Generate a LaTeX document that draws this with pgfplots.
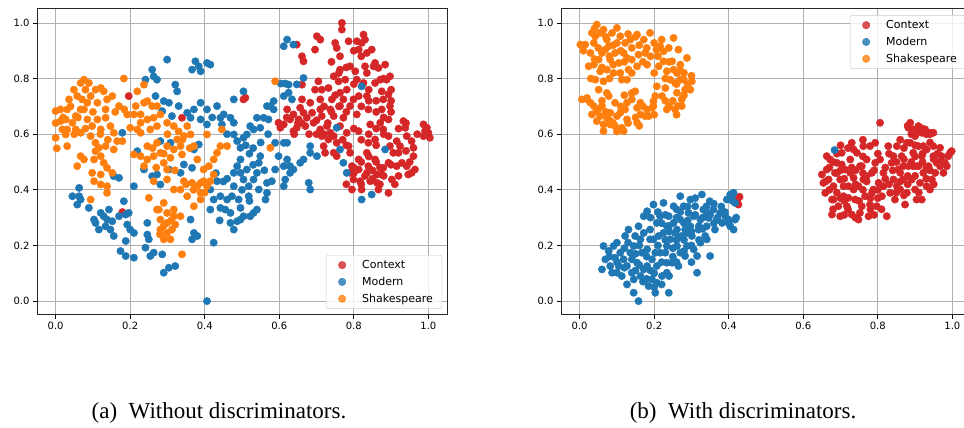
\documentclass[border=0pt]{standalone}
\usepackage{fontspec}
\setmainfont{Liberation Serif}
\newfontfamily\dejavu{DejaVu Sans}
\usepackage{pgfplots}
\pgfplotsset{compat=1.18}
\definecolor{cctx}{HTML}{D62728}
\definecolor{cmod}{HTML}{1F77B4}
\definecolor{cshk}{HTML}{FF7F0E}
\pgfplotsset{
  myax/.style={
    scale only axis, width=410pt, height=306pt,
    xmin=-0.05, xmax=1.05, ymin=-0.05, ymax=1.05,
    xtick={0,0.2,0.4,0.6,0.8,1}, ytick={0,0.2,0.4,0.6,0.8,1},
    /pgf/number format/.cd, fixed, fixed zerofill, precision=1, assume math mode=true, /pgfplots/.cd,
    ticklabel style={font=\dejavu\fontsize{10}{12}\selectfont},
    tick pos=left, tick align=outside, major tick length=4pt,
    tick style={black, line width=0.8pt},
    grid=major, grid style={color=black!31, line width=0.8pt},
    axis line style={black!85, line width=1pt},
    legend cell align=left,
    legend style={font=\dejavu\fontsize{11}{13}\selectfont, draw=black!20, rounded corners=2pt,
      fill=white, fill opacity=0.8, text opacity=1, row sep=3pt, inner xsep=7pt, inner ysep=3pt},
    legend image code/.code={\path[draw=none,fill=none] (0pt,0pt) -- (27pt,0pt); \fill[##1] (9pt,0pt) circle (3.7pt);},
  },
  pts/.style={only marks, mark=*, mark size=3.7pt, mark options={draw=none, fill=#1}, color=#1},
}
\begin{document}
\begin{tikzpicture}[x=1pt,y=1pt]
\path[use as bounding box] (0,0) rectangle (964,428);
\begin{axis}[myax, at={(37pt,113pt)}, anchor=south west,
  legend style={at={(0.988,0.02)}, anchor=south east}]
\addplot[pts=cctx] coordinates {
(0.196,0.737)(0.179,0.32)(0.339,0.659)(0.504,0.725)(0.509,0.731)(0.647,0.922)
(0.598,0.641)(0.603,0.623)(0.612,0.635)(0.621,0.689)(0.629,0.653)(0.638,0.671)(0.638,0.611)(0.647,0.623)(0.652,0.653)(0.656,0.695)(0.661,0.778)(0.661,0.88)(0.665,0.862)(0.661,0.725)(0.665,0.677)(0.67,0.629)(0.674,0.659)(0.683,0.713)(0.688,0.677)(0.692,0.641)(0.696,0.904)(0.701,0.952)(0.71,0.94)(0.696,0.76)(0.705,0.79)(0.71,0.725)(0.71,0.689)(0.714,0.665)(0.71,0.617)(0.714,0.593)(0.719,0.557)(0.723,0.533)(0.732,0.581)(0.728,0.629)(0.737,0.689)(0.741,0.725)(0.732,0.766)(0.746,0.808)(0.75,0.928)(0.754,0.91)(0.763,0.88)(0.768,1.0)(0.768,0.976)(0.763,0.832)(0.759,0.79)(0.763,0.749)(0.763,0.701)(0.772,0.725)(0.777,0.796)(0.781,0.76)(0.786,0.934)(0.79,0.844)(0.79,0.701)(0.781,0.605)(0.754,0.569)(0.746,0.533)(0.754,0.521)(0.786,0.557)(0.79,0.533)(0.795,0.485)(0.79,0.461)(0.795,0.401)(0.799,0.437)(0.804,0.826)(0.808,0.934)(0.813,0.904)(0.808,0.796)(0.813,0.737)(0.808,0.671)(0.813,0.611)(0.813,0.509)(0.813,0.473)(0.817,0.431)(0.821,0.401)(0.821,0.928)(0.826,0.958)(0.83,0.844)(0.835,0.892)(0.835,0.737)(0.839,0.689)(0.844,0.635)(0.839,0.569)(0.835,0.533)(0.839,0.485)(0.835,0.461)(0.844,0.431)(0.848,0.904)(0.853,0.844)(0.857,0.784)(0.857,0.581)(0.857,0.509)(0.862,0.455)(0.862,0.425)(0.866,0.401)(0.866,0.838)(0.871,0.796)(0.875,0.754)(0.879,0.725)(0.875,0.689)(0.871,0.641)(0.879,0.617)(0.879,0.479)(0.875,0.455)(0.884,0.85)(0.888,0.796)(0.893,0.743)(0.897,0.808)(0.897,0.701)(0.893,0.653)(0.893,0.593)(0.897,0.557)(0.893,0.497)(0.893,0.389)(0.902,0.437)(0.906,0.533)(0.915,0.485)(0.92,0.533)(0.924,0.557)(0.933,0.647)(0.938,0.623)(0.942,0.593)(0.942,0.485)(0.946,0.455)(0.955,0.461)(0.96,0.521)(0.955,0.575)(0.96,0.551)(0.964,0.473)(0.987,0.635)(0.991,0.611)(0.987,0.593)(1.0,0.605)(1.004,0.587)(0.996,0.623)(0.915,0.575)(0.929,0.497)
(0.737,0.605)(0.746,0.665)(0.772,0.659)(0.799,0.725)(0.763,0.629)(0.746,0.593)(0.714,0.76)(0.826,0.784)(0.835,0.82)(0.857,0.856)
(0.62,0.66)(0.65,0.64)(0.68,0.6)(0.7,0.65)(0.72,0.7)(0.75,0.74)(0.78,0.68)(0.8,0.62)(0.82,0.58)(0.84,0.52)(0.86,0.56)(0.88,0.6)(0.9,0.68)(0.92,0.62)(0.94,0.54)(0.82,0.5)(0.8,0.46)(0.78,0.42)(0.85,0.44)(0.87,0.48)(0.91,0.42)(0.76,0.82)(0.74,0.86)(0.82,0.88)(0.84,0.76)(0.86,0.72)(0.9,0.76)(0.88,0.66)(0.77,0.58)(0.73,0.64)
(0.85,0.47)(0.86,0.5)(0.88,0.45)(0.9,0.49)(0.83,0.45)(0.82,0.42)(0.87,0.42)(0.8,0.48)(0.84,0.6)(0.86,0.62)(0.82,0.7)(0.84,0.72)(0.8,0.78)(0.78,0.84)(0.8,0.9)(0.83,0.94)(0.72,0.6)(0.7,0.6)(0.66,0.64)(0.64,0.6)(0.76,0.7)(0.74,0.68)(0.92,0.45)(0.95,0.5)(0.97,0.6)(0.94,0.64)(0.9,0.72)(0.88,0.8)(0.86,0.68)(0.78,0.56)
};
\addlegendentry{Context}
\addplot[pts=cmod] coordinates {
(0.045,0.377)(0.063,0.407)(0.063,0.377)(0.067,0.365)(0.058,0.347)(0.089,0.335)(0.103,0.293)(0.107,0.281)(0.116,0.257)(0.121,0.317)(0.129,0.305)(0.134,0.269)(0.143,0.329)(0.138,0.293)(0.147,0.257)(0.156,0.234)(0.152,0.287)(0.17,0.305)(0.183,0.359)(0.188,0.311)(0.196,0.317)(0.192,0.275)(0.2,0.257)(0.21,0.245)(0.188,0.216)(0.174,0.18)(0.188,0.162)(0.21,0.156)(0.21,0.413)(0.156,0.449)(0.17,0.443)(0.179,0.605)
(0.246,0.281)(0.246,0.239)(0.25,0.222)(0.241,0.192)(0.254,0.162)(0.263,0.174)(0.286,0.168)(0.29,0.102)(0.304,0.12)(0.321,0.126)(0.259,0.449)(0.272,0.455)(0.281,0.419)(0.304,0.473)(0.335,0.461)(0.344,0.491)(0.362,0.293)(0.371,0.245)(0.366,0.222)(0.38,0.234)(0.424,0.21)(0.219,0.539)(0.281,0.575)(0.308,0.569)(0.237,0.473)(0.406,0.0)
(0.241,0.796)(0.259,0.832)(0.263,0.808)(0.272,0.796)(0.268,0.737)(0.299,0.868)(0.29,0.719)(0.304,0.713)(0.321,0.778)(0.326,0.754)(0.33,0.701)(0.286,0.683)(0.312,0.665)(0.366,0.832)(0.375,0.862)(0.384,0.844)(0.389,0.826)(0.406,0.856)(0.415,0.85)(0.353,0.677)(0.371,0.689)(0.389,0.713)(0.406,0.689)(0.362,0.659)(0.389,0.653)(0.406,0.635)(0.371,0.545)(0.384,0.563)(0.366,0.479)
(0.415,0.401)(0.424,0.365)(0.415,0.329)(0.433,0.431)(0.442,0.377)(0.442,0.335)(0.455,0.329)(0.469,0.317)(0.46,0.365)(0.473,0.377)(0.478,0.413)(0.478,0.461)(0.487,0.485)(0.496,0.461)(0.496,0.509)(0.504,0.437)(0.513,0.473)(0.518,0.413)(0.531,0.437)(0.54,0.461)(0.545,0.497)(0.549,0.521)(0.469,0.281)(0.478,0.257)(0.487,0.287)(0.496,0.293)(0.504,0.305)(0.522,0.305)(0.531,0.317)(0.54,0.329)(0.496,0.335)(0.491,0.365)(0.518,0.377)(0.545,0.401)(0.567,0.389)(0.563,0.365)(0.567,0.425)(0.58,0.431)(0.589,0.473)(0.598,0.521)
(0.433,0.701)(0.442,0.659)(0.451,0.671)(0.469,0.659)(0.446,0.635)(0.478,0.641)(0.478,0.725)(0.504,0.754)(0.478,0.599)(0.487,0.575)(0.496,0.551)(0.504,0.587)(0.513,0.599)(0.522,0.629)(0.531,0.617)(0.54,0.659)(0.549,0.623)(0.558,0.659)(0.567,0.701)(0.576,0.701)(0.585,0.689)(0.585,0.719)(0.571,0.653)(0.589,0.569)(0.612,0.569)(0.621,0.509)(0.612,0.485)(0.616,0.437)(0.612,0.413)(0.629,0.485)(0.638,0.473)(0.629,0.461)
(0.604,0.782)(0.616,0.782)(0.625,0.778)(0.612,0.737)(0.625,0.749)(0.634,0.725)(0.612,0.916)(0.621,0.94)(0.638,0.922)(0.647,0.779)(0.665,0.802)(0.621,0.569)(0.656,0.497)(0.665,0.509)(0.683,0.557)(0.683,0.533)(0.679,0.425)(0.683,0.401)(0.701,0.521)(0.754,0.623)(0.763,0.545)(0.772,0.497)(0.781,0.461)(0.821,0.772)(0.821,0.365)(0.848,0.383)(0.884,0.545)
(0.43,0.46)(0.45,0.43)(0.52,0.53)(0.53,0.49)(0.56,0.47)(0.5,0.4)(0.52,0.36)(0.44,0.29)(0.46,0.44)(0.51,0.56)(0.55,0.57)(0.53,0.55)(0.57,0.6)(0.42,0.66)(0.46,0.6)
};
\addlegendentry{Modern}
\addplot[pts=cshk] coordinates {
(0,0.683)(0,0.64)(0,0.587)(0.003,0.549)(0.013,0.689)(0.013,0.647)(0.018,0.617)(0.027,0.599)(0.031,0.557)(0.031,0.689)(0.036,0.725)(0.049,0.76)(0.058,0.737)(0.054,0.665)(0.067,0.784)(0.076,0.796)(0.08,0.76)(0.089,0.784)(0.071,0.725)(0.067,0.689)(0.085,0.713)(0.094,0.737)(0.107,0.76)(0.121,0.766)(0.129,0.754)(0.138,0.725)(0.152,0.737)(0.134,0.689)(0.112,0.713)(0.076,0.689)(0.085,0.653)(0.098,0.629)(0.112,0.653)(0.121,0.617)(0.134,0.659)(0.147,0.629)(0.156,0.605)(0.054,0.617)(0.067,0.605)(0.094,0.593)(0.045,0.641)(0.027,0.653)(0.031,0.617)
(0.067,0.521)(0.058,0.485)(0.076,0.509)(0.103,0.509)(0.098,0.461)(0.107,0.539)(0.107,0.569)(0.116,0.551)(0.121,0.521)(0.129,0.497)(0.138,0.479)(0.103,0.431)(0.121,0.419)(0.138,0.413)(0.138,0.389)(0.121,0.455)(0.134,0.557)(0.156,0.545)(0.152,0.461)(0.094,0.365)
(0.17,0.701)(0.184,0.689)(0.179,0.575)(0.165,0.575)(0.183,0.8)(0.192,0.671)(0.21,0.671)(0.2,0.623)(0.215,0.701)(0.219,0.754)(0.237,0.778)(0.237,0.713)(0.21,0.527)(0.219,0.617)
(0.228,0.671)(0.246,0.719)(0.259,0.701)(0.228,0.641)(0.246,0.653)(0.263,0.659)(0.281,0.671)(0.299,0.641)(0.254,0.617)(0.228,0.605)(0.272,0.629)(0.246,0.557)(0.228,0.521)(0.246,0.509)(0.237,0.485)(0.263,0.521)(0.272,0.569)(0.281,0.533)(0.29,0.497)(0.299,0.557)(0.299,0.473)(0.308,0.515)(0.317,0.545)(0.317,0.629)(0.326,0.581)(0.335,0.557)(0.344,0.593)(0.353,0.629)(0.339,0.527)(0.299,0.437)(0.317,0.401)(0.335,0.401)(0.344,0.431)(0.362,0.599)(0.371,0.557)(0.38,0.509)(0.366,0.425)(0.38,0.413)(0.389,0.425)(0.397,0.431)(0.406,0.413)(0.415,0.431)(0.389,0.389)(0.371,0.341)(0.389,0.365)(0.397,0.473)(0.411,0.485)(0.424,0.509)(0.433,0.533)(0.442,0.557)(0.446,0.617)(0.46,0.557)(0.406,0.599)(0.424,0.455)(0.353,0.377)(0.25,0.371)(0.263,0.431)(0.272,0.701)
(0.272,0.329)(0.29,0.353)(0.299,0.317)(0.281,0.293)(0.299,0.281)(0.317,0.305)(0.335,0.305)(0.281,0.257)(0.299,0.245)(0.312,0.257)(0.321,0.275)(0.29,0.222)(0.308,0.222)(0.277,0.329)(0.317,0.329)(0.339,0.168)
(0.589,0.79)(0.576,0.551)
(0.04,0.7)(0.06,0.66)(0.1,0.68)(0.12,0.6)(0.14,0.58)(0.08,0.62)(0.02,0.66)(0.05,0.6)(0.16,0.68)(0.27,0.48)(0.29,0.53)(0.32,0.47)(0.34,0.58)(0.36,0.55)(0.26,0.55)(0.3,0.6)(0.33,0.61)(0.35,0.42)(0.37,0.4)(0.4,0.39)(0.29,0.27)(0.31,0.29)(0.28,0.24)
};
\addlegendentry{Shakespeare}
\end{axis}
\begin{axis}[myax, at={(561pt,113pt)}, anchor=south west,
  legend style={at={(0.988,0.98)}, anchor=north east}]
\addplot[pts=cctx] coordinates {
(0.429,0.375)(0.426,0.347)(0.424,0.365)
(0.65,0.455)(0.654,0.425)(0.659,0.389)(0.663,0.473)(0.668,0.437)(0.672,0.509)(0.677,0.365)(0.677,0.311)(0.681,0.413)(0.685,0.461)(0.69,0.497)(0.694,0.341)(0.699,0.437)(0.699,0.305)(0.703,0.533)(0.708,0.377)(0.712,0.473)(0.717,0.341)(0.721,0.413)(0.726,0.509)(0.73,0.311)(0.73,0.569)(0.735,0.443)(0.739,0.365)(0.744,0.533)(0.748,0.293)(0.748,0.413)(0.752,0.485)(0.757,0.341)(0.761,0.557)(0.761,0.437)(0.766,0.377)(0.77,0.509)(0.775,0.305)(0.779,0.557)(0.779,0.347)(0.784,0.461)(0.788,0.401)(0.793,0.497)(0.797,0.341)(0.802,0.425)(0.806,0.509)(0.806,0.641)(0.811,0.377)(0.815,0.461)(0.824,0.305)(0.828,0.557)(0.833,0.389)(0.837,0.497)(0.842,0.437)(0.846,0.365)(0.851,0.557)(0.855,0.473)(0.86,0.401)(0.864,0.521)(0.868,0.437)(0.873,0.347)(0.878,0.569)(0.878,0.389)(0.882,0.485)(0.882,0.623)(0.887,0.641)(0.891,0.437)(0.895,0.533)(0.895,0.617)(0.9,0.593)(0.9,0.401)(0.904,0.485)(0.909,0.629)(0.909,0.557)(0.913,0.425)(0.918,0.605)(0.918,0.521)(0.918,0.365)(0.922,0.461)(0.927,0.617)(0.931,0.545)(0.931,0.413)(0.936,0.485)(0.94,0.605)(0.945,0.437)(0.949,0.521)(0.949,0.605)(0.954,0.461)(0.958,0.497)(0.967,0.485)(0.971,0.521)(0.976,0.461)(0.98,0.497)(0.985,0.485)(0.989,0.521)(0.994,0.533)(0.998,0.539)
(0.949,0.557)(0.94,0.401)(0.895,0.485)(0.868,0.485)(0.842,0.521)(0.793,0.569)(0.77,0.449)(0.735,0.401)(0.708,0.413)(0.681,0.365)(0.663,0.521)(0.703,0.491)(0.726,0.461)(0.757,0.485)(0.784,0.389)(0.815,0.413)(0.851,0.413)(0.887,0.569)(0.86,0.461)(0.909,0.485)(0.922,0.557)(0.967,0.551)(0.904,0.365)(0.735,0.545)(0.752,0.317)(0.721,0.371)
(0.67,0.48)(0.69,0.46)(0.71,0.44)(0.69,0.39)(0.72,0.33)(0.74,0.47)(0.76,0.4)(0.78,0.33)(0.8,0.37)(0.82,0.48)(0.86,0.43)(0.88,0.45)(0.9,0.52)(0.92,0.5)(0.93,0.44)(0.94,0.47)(0.96,0.5)(0.89,0.6)(0.91,0.61)(0.93,0.6)(0.87,0.55)(0.85,0.5)(0.71,0.36)(0.76,0.46)(0.8,0.53)
(0.66,0.43)(0.67,0.4)(0.68,0.5)(0.69,0.53)(0.7,0.47)(0.7,0.37)(0.71,0.31)(0.72,0.55)(0.73,0.48)(0.74,0.42)(0.75,0.36)(0.76,0.52)(0.77,0.43)(0.78,0.37)(0.79,0.47)(0.8,0.4)(0.81,0.33)(0.82,0.44)(0.83,0.53)(0.84,0.47)(0.85,0.39)(0.86,0.58)(0.87,0.51)(0.88,0.42)(0.89,0.5)(0.9,0.45)(0.9,0.56)(0.91,0.39)(0.92,0.53)(0.93,0.48)(0.94,0.57)(0.95,0.42)(0.96,0.53)(0.97,0.5)(0.92,0.62)(0.94,0.6)(0.88,0.63)(0.79,0.31)(0.74,0.3)(0.7,0.56)(0.76,0.58)(0.83,0.42)(0.87,0.38)(0.95,0.51)(0.68,0.33)
};
\addlegendentry{Context}
\addplot[pts=cmod] coordinates {
(0.06,0.114)(0.064,0.198)(0.069,0.15)(0.078,0.18)(0.082,0.126)(0.087,0.102)(0.091,0.198)(0.095,0.156)(0.1,0.21)(0.105,0.126)(0.109,0.174)(0.113,0.09)(0.118,0.15)(0.122,0.234)(0.127,0.06)(0.127,0.126)(0.131,0.257)(0.136,0.174)(0.14,0.102)(0.145,0.198)(0.145,0.03)(0.149,0.234)(0.154,0.138)(0.158,0.269)(0.158,0.0)(0.163,0.09)(0.167,0.174)(0.172,0.245)(0.172,0.305)(0.181,0.126)(0.181,0.323)(0.185,0.054)(0.189,0.222)(0.189,0.257)(0.194,0.078)(0.198,0.347)(0.203,0.174)(0.203,0.03)(0.207,0.066)(0.207,0.281)(0.212,0.234)(0.216,0.305)(0.221,0.09)(0.225,0.353)(0.225,0.245)(0.23,0.174)(0.234,0.269)(0.234,0.102)(0.239,0.03)(0.239,0.305)(0.243,0.222)(0.248,0.138)(0.252,0.341)(0.252,0.281)(0.256,0.245)(0.261,0.198)(0.265,0.126)(0.27,0.377)(0.27,0.293)(0.274,0.234)(0.279,0.341)(0.283,0.257)(0.283,0.162)(0.288,0.198)(0.292,0.317)(0.297,0.365)(0.297,0.269)(0.301,0.234)(0.306,0.305)(0.31,0.341)(0.315,0.102)(0.315,0.162)(0.319,0.257)(0.324,0.293)(0.328,0.383)(0.332,0.329)(0.337,0.234)(0.341,0.269)(0.346,0.299)(0.349,0.359)(0.35,0.162)(0.359,0.329)(0.363,0.257)(0.368,0.293)(0.377,0.317)(0.382,0.281)(0.391,0.305)(0.395,0.365)(0.399,0.293)(0.404,0.269)(0.408,0.377)(0.413,0.389)(0.417,0.353)(0.417,0.293)(0.413,0.257)(0.404,0.383)
(0.288,0.245)(0.261,0.257)(0.234,0.198)(0.216,0.174)(0.198,0.222)(0.163,0.222)(0.181,0.186)(0.194,0.15)(0.172,0.114)(0.207,0.126)(0.234,0.138)(0.27,0.174)(0.306,0.186)(0.324,0.21)(0.341,0.222)(0.1,0.102)(0.145,0.078)(0.684,0.543)
(0.12,0.19)(0.14,0.15)(0.16,0.2)(0.18,0.08)(0.2,0.1)(0.22,0.28)(0.24,0.25)(0.26,0.3)(0.28,0.22)(0.3,0.2)(0.32,0.27)(0.34,0.32)(0.36,0.28)(0.38,0.34)(0.26,0.22)(0.29,0.29)(0.31,0.31)(0.33,0.26)(0.25,0.16)(0.15,0.11)
(0.08,0.16)(0.1,0.14)(0.12,0.12)(0.13,0.21)(0.15,0.17)(0.16,0.13)(0.17,0.07)(0.18,0.16)(0.19,0.11)(0.2,0.05)(0.21,0.2)(0.22,0.14)(0.23,0.31)(0.24,0.27)(0.25,0.19)(0.26,0.33)(0.27,0.23)(0.28,0.28)(0.29,0.34)(0.3,0.25)(0.31,0.37)(0.32,0.22)(0.33,0.3)(0.34,0.34)(0.35,0.31)(0.36,0.35)(0.37,0.3)(0.39,0.32)(0.4,0.28)(0.41,0.36)(0.42,0.3)(0.28,0.18)(0.26,0.14)(0.24,0.09)(0.22,0.06)(0.19,0.3)(0.21,0.32)(0.23,0.22)(0.27,0.32)(0.3,0.14)
};
\addlegendentry{Modern}
\addplot[pts=cshk] coordinates {
(0.002,0.922)(0.015,0.922)(0.006,0.725)(0.02,0.725)(0.029,0.713)(0.038,0.701)(0.033,0.964)(0.046,0.994)(0.055,0.964)(0.038,0.928)(0.029,0.892)(0.024,0.844)(0.038,0.85)(0.051,0.868)(0.055,0.826)(0.042,0.796)(0.064,0.976)(0.073,0.94)(0.069,0.904)(0.082,0.868)(0.073,0.832)(0.064,0.79)(0.087,0.964)(0.1,0.982)(0.1,0.928)(0.095,0.892)(0.105,0.856)(0.091,0.82)(0.109,0.82)(0.118,0.892)(0.122,0.928)(0.131,0.832)(0.127,0.796)(0.136,0.94)(0.14,0.91)(0.14,0.868)(0.154,0.958)(0.158,0.886)(0.154,0.844)(0.172,0.94)(0.176,0.892)(0.181,0.85)(0.2,0.928)(0.206,0.904)(0.21,0.88)(0.216,0.916)(0.212,0.844)(0.225,0.862)(0.239,0.91)(0.234,0.826)(0.248,0.862)(0.252,0.832)(0.261,0.82)(0.243,0.796)(0.256,0.784)(0.27,0.796)(0.279,0.796)(0.288,0.874)(0.301,0.79)(0.297,0.76)(0.283,0.76)(0.274,0.725)(0.263,0.701)(0.256,0.689)(0.274,0.701)(0.234,0.689)(0.221,0.737)(0.207,0.772)(0.203,0.737)(0.198,0.701)(0.181,0.689)(0.185,0.665)(0.198,0.719)(0.163,0.713)(0.149,0.754)(0.14,0.748)(0.154,0.695)(0.127,0.713)(0.122,0.689)(0.127,0.653)(0.113,0.623)(0.118,0.611)(0.1,0.665)(0.095,0.629)(0.082,0.677)(0.073,0.659)(0.064,0.635)(0.064,0.611)(0.055,0.665)(0.046,0.647)(0.046,0.683)(0.06,0.701)(0.082,0.635)(0.109,0.677)(0.154,0.641)(0.163,0.671)(0.176,0.665)(0.194,0.695)(0.051,0.76)(0.073,0.748)(0.078,0.737)(0.252,0.946)(0.265,0.904)(0.27,0.85)(0.225,0.898)(0.06,0.892)(0.078,0.916)(0.109,0.952)(0.042,0.952)(0.127,0.874)(0.113,0.796)(0.189,0.964)(0.23,0.766)(0.261,0.749)(0.095,0.713)(0.14,0.725)(0.033,0.671)
(0.05,0.91)(0.08,0.88)(0.11,0.9)(0.13,0.96)(0.16,0.92)(0.19,0.88)(0.2,0.82)(0.24,0.86)(0.26,0.78)(0.28,0.82)(0.09,0.85)(0.06,0.84)(0.03,0.8)(0.07,0.68)(0.09,0.64)(0.11,0.7)(0.15,0.66)(0.17,0.7)(0.23,0.72)(0.25,0.72)
(0.01,0.9)(0.04,0.87)(0.07,0.95)(0.09,0.92)(0.12,0.86)(0.14,0.82)(0.17,0.86)(0.18,0.91)(0.22,0.94)(0.23,0.8)(0.27,0.83)(0.29,0.78)(0.3,0.81)(0.28,0.74)(0.26,0.67)(0.24,0.7)(0.2,0.67)(0.16,0.63)(0.13,0.64)(0.1,0.61)(0.08,0.65)(0.05,0.69)(0.02,0.73)(0.06,0.72)(0.12,0.74)(0.08,0.8)(0.15,0.95)(0.04,0.98)
};
\addlegendentry{Shakespeare}
\end{axis}
\node[anchor=base, font=\fontsize{23}{26}\selectfont] at (219,9) {(a)\ \ Without discriminators.};
\node[anchor=base, font=\fontsize{23}{26}\selectfont] at (743,9) {(b)\ \ With discriminators.};
\end{tikzpicture}
\end{document}
